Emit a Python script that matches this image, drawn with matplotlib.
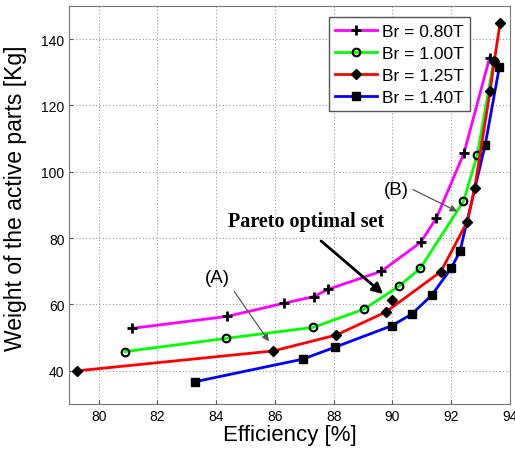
import matplotlib
matplotlib.use("Agg")
import matplotlib.pyplot as plt

plt.rcParams['font.family'] = ['Liberation Sans', 'DejaVu Sans']

labels = ["Br = 0.80T", "Br = 1.00T", "Br = 1.25T", "Br = 1.40T"]

x_080 = [81.13, 84.37, 86.32, 87.33, 87.82, 89.62, 90.96, 91.50, 92.44, 93.31]
y_080 = [52.8, 56.4, 60.4, 62.4, 64.6, 70.0, 78.7, 86.1, 105.7, 134.4]

x_100 = [80.90, 84.35, 87.30, 89.04, 90.24, 90.95, 92.42, 92.89, 93.45]
y_100 = [45.8, 49.8, 53.1, 58.6, 65.6, 70.9, 91.1, 105.0, 133.4]

x_125 = [79.27, 85.95, 88.09, 89.77, 91.65, 92.55, 92.80, 93.33, 93.47, 93.67]
y_125 = [40.0, 46.0, 50.8, 57.7, 69.9, 85.0, 95.0, 124.5, 133.4, 145.0]

x_140 = [83.27, 86.94, 88.04, 89.98, 90.66, 91.34, 92.00, 92.30, 93.16, 93.64]
y_140 = [36.7, 43.5, 47.1, 53.6, 57.1, 62.8, 70.9, 76.0, 108.1, 131.5]

pareto_x = [90.0]
pareto_y = [61.4]

xticks = [80, 82, 84, 86, 88, 90, 92, 94]
yticks = [40, 60, 80, 100, 120, 140]

fig = plt.figure(figsize=(5.15, 4.52), dpi=100)
ax = fig.add_axes([0.1346, 0.104, 0.8554, 0.8806])

lw = 2.0
ax.plot(x_080, y_080, color='#ff00ff', lw=lw, marker='+', ms=7, mew=2.0,
        mec='black', label=labels[0], zorder=3)
ax.plot(x_100, y_100, color='#00ff00', lw=lw, marker='o', ms=5.5, mew=1.5,
        mec='black', mfc='none', label=labels[1], zorder=3)
ax.plot(x_140, y_140, color='#0000ff', lw=lw, marker='s', ms=6,
        mec='black', mfc='black', label=labels[3], zorder=3)
ax.plot(x_125, y_125, color='#ff0000', lw=lw, marker='D', ms=4.8,
        mec='black', mfc='black', label=labels[2], zorder=4)
ax.plot(pareto_x, pareto_y, ls='none', marker='D', ms=4.8, mec='black', mfc='black', zorder=5)

ax.set_xlim(79, 94)
ax.set_ylim(30, 150)
ax.set_xticks(xticks)
ax.set_yticks(yticks)
ax.tick_params(direction='in', labelsize=10, length=3, color='#555555')
ax.grid(True, ls=(0, (1, 2)), color='#999999', lw=0.8)
for s in ax.spines.values():
    s.set_color('#777777')

ax.set_xlabel("Efficiency [%]", fontsize=16, labelpad=1)
ax.set_ylabel("Weight of the active parts [Kg]", fontsize=16.5, labelpad=3)
ax.yaxis.set_label_coords(-0.095, 0.52)

handles, labs = ax.get_legend_handles_labels()
order = [labs.index(l) for l in labels]
leg = ax.legend([handles[i] for i in order], [labs[i] for i in order],
                loc='upper right', bbox_to_anchor=(0.918, 0.98), fontsize=12.5,
                fancybox=False, framealpha=1, edgecolor='#555555',
                handlelength=2.4, borderpad=0.35, labelspacing=0.4, handletextpad=0.3,
                borderaxespad=0.2)
leg.get_frame().set_linewidth(1.0)

ax.text(84.4, 85.2, "Pareto optimal set", fontsize=14.5, fontweight='bold',
        family=['Liberation Serif', 'DejaVu Serif'], va='center', ha='left', zorder=6)
ax.annotate("", xy=(89.76, 62.6), xytext=(87.5, 79.7),
            arrowprops=dict(arrowstyle='-|>', color='black', lw=2.0, mutation_scale=16), zorder=6)

ax.text(84.05, 68.2, "(A)", fontsize=13.5, ha='center', va='center')
ax.annotate("", xy=(85.85, 48.2), xytext=(84.56, 64.6),
            arrowprops=dict(arrowstyle='-|>', color='#555555', lw=0.9, mutation_scale=10))

ax.text(90.14, 94.6, "(B)", fontsize=13.5, ha='center', va='center')
ax.annotate("", xy=(92.29, 87.7), xytext=(90.62, 95.0),
            arrowprops=dict(arrowstyle='-|>', color='#555555', lw=0.9, mutation_scale=10))

fig.savefig("out.png", dpi=100)
